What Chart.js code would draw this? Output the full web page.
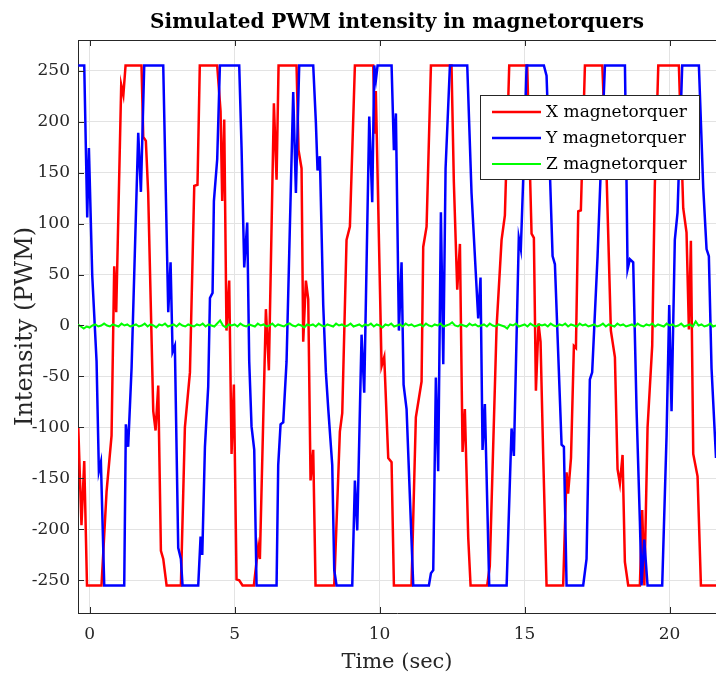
<!DOCTYPE html>
<html>
<head>
<meta charset="utf-8">
<script src="https://cdn.jsdelivr.net/npm/chart.js@4.4.1/dist/chart.umd.min.js"></script>
<style>
  html, body { margin: 0; padding: 0; background: #fff; }
  canvas { display: block; }
</style>
</head>
<body>
<canvas id="pwmChart" width="716" height="680"></canvas>
<script>
// axis ticks
const xTicks = [0, 5, 10, 15, 20];
const yTicks = [-250, -200, -150, -100, -50, 0, 50, 100, 150, 200, 250];

// X magnetorquer (red), time in sec / PWM value
const xTorqTime = [-0.39, -0.28, -0.185, -0.09, 0.41, 0.585, 0.757, 0.849, 0.918, 1.09, 1.164, 1.24, 1.79, 1.85, 1.94, 2.02,
  2.195, 2.275, 2.367, 2.459, 2.54, 2.655, 3.148, 3.286, 3.46, 3.609, 3.72, 3.8, 4.4, 4.516, 4.573, 4.642, 4.72, 4.814,
  4.895, 4.975, 5.067, 5.159, 5.274, 5.665, 5.814, 5.872, 6.079, 6.182, 6.355, 6.447, 6.516, 7.136, 7.205, 7.309, 7.366,
  7.458, 7.539, 7.619, 7.711, 7.791, 8.436, 8.63, 8.712, 8.86, 8.976, 9.148, 9.78, 9.84, 9.87, 10.068, 10.16, 10.298,
  10.413, 10.493, 11.1, 11.25, 11.447, 11.504, 11.62, 11.77, 12.48, 12.56, 12.677, 12.77, 12.861, 12.94, 13.056, 13.137,
  13.71, 13.8, 14.033, 14.206, 14.32, 14.47, 15.09, 15.24, 15.32, 15.39, 15.48, 15.55, 15.64, 15.757, 16.33, 16.447, 16.5,
  16.6, 16.7, 16.77, 16.85, 16.94, 17.08, 17.68, 17.83, 17.975, 18.114, 18.205, 18.286, 18.378, 18.458, 18.573, 18.975,
  19.056, 19.13, 19.24, 19.4, 19.49, 19.61, 20.32, 20.47, 20.584, 20.665, 20.734, 20.815, 20.964, 21.08, 21.6];
const xTorqPwm = [-100, -196, -133, -255, -255, -163, -108, 58, 13, 236, 226, 255, 255, 185, 181, 130,
  -84, -103, -59, -221, -229, -255, -255, -100, -46, 137, 138, 255, 255, 210, 122, 202, -5, 44,
  -126, -58, -249, -250, -255, -255, -217, -229, 16, -44, 218, 143, 255, 255, 172, 154, -16,
  44, 26, -152, -122, -255, -255, -104, -86, 84, 97, 255, 255, 188, 230, -40, -31, -130,
  -134, -255, -255, -90, -55, 77, 97, 255, 255, 141, 35, 80, -124, -82, -208, -255,
  -255, -236, -2, 84, 108, 255, 255, 90, 86, -64, 2, -16, -126, -255, -255, -144, -165,
  -130, -20, -22, 112, 113, 255, 255, 144, -5, -31, -141, -155, -127, -232, -255, -255,
  -181, -255, -100, -20, 137, 255, 255, 115, 91, -4, 83, -126, -148, -255, -255];

// Y magnetorquer (blue)
const yTorqTime = [-0.39, -0.185, -0.082, -0.024, 0.091, 0.24, 0.32, 0.39, 0.505, 1.194, 1.25, 1.33, 1.447, 1.677, 1.769,
  1.884, 2.539, 2.712, 2.792, 2.861, 2.94, 3.056, 3.148, 3.205, 3.746, 3.827, 3.885, 3.977, 4.09, 4.15, 4.24, 4.286, 4.4,
  4.493, 5.159, 5.24, 5.332, 5.435, 5.504, 5.584, 5.677, 5.757, 6.447, 6.504, 6.585, 6.677, 6.792, 6.884, 7.021, 7.114,
  7.228, 7.711, 7.803, 7.86, 7.94, 8.056, 8.148, 8.23, 8.367, 8.436, 8.516, 9.057, 9.148, 9.229, 9.378, 9.47, 9.643,
  9.746, 9.815, 9.873, 9.93, 10.413, 10.493, 10.562, 10.665, 10.757, 10.827, 10.93, 11.16, 11.7, 11.77, 11.85, 11.94,
  12.02, 12.114, 12.195, 12.275, 12.425, 13.022, 13.17, 13.4, 13.48, 13.55, 13.63, 13.78, 14.38, 14.55, 14.63, 14.8,
  14.87, 14.975, 15.068, 15.665, 15.757, 15.87, 15.965, 16.045, 16.275, 16.355, 16.447, 17.02, 17.136, 17.25, 17.33,
  17.516, 17.63, 17.77, 18.46, 18.516, 18.55, 18.63, 18.745, 18.86, 18.975, 19.033, 19.125, 19.24, 19.745, 19.895,
  19.987, 20.067, 20.18, 20.274, 20.435, 21.01, 21.16, 21.274, 21.354, 21.446, 21.6];
const yTorqPwm = [255, 255, 106, 174, 49, -35, -143, -134, -255, -255, -97, -119, -42, 189, 131,
  255, 255, 13, 62, -26, -20, -218, -229, -255, -255, -207, -225, -119, -60, 27, 32, 122, 163,
  255, 255, 174, 57, 101, -35, -99, -122, -255, -255, -137, -97, -95, -35, 71, 229, 130,
  255, 255, 199, 152, 166, 20, -46, -82, -137, -240, -255, -255, -152, -201, -9, -66, 205,
  121, 255, 241, 255, 255, 172, 208, -5, 62, -58, -82, -255, -255, -243, -240, -51,
  -143, 111, -38, 154, 255, 255, 130, 7, 47, -122, -77, -255, -255, -101, -128, 86,
  75, 163, 255, 255, 245, 152, 68, 60, -117, -119, -255, -255, -229, -53, -46,
  68, 155, 255, 255, 137, 55, 65, 62, -82, -192, -255, -210, -255, -255, -108,
  20, -84, 84, 111, 255, 255, 135, 75, 68, -42, -130];

// Z magnetorquer (green), sampled every 0.1 s from -0.4 s
const zTorqStart = -0.4;
const zTorqStep = 0.1;
const zTorqPwm = [
  1, -1, -3, -1, -2, 0, 1, -1, 0, 2, 0, -1, 1, 0, -1, 2, 0, 1, -1, 0,
  1, -1, 0, 2, -1, 1, 0, -2, 1, 0, 2, -1, 0, 1, -1, 2, 0, -1, 1, 0,
  -1, 1, 0, 2, -1, 1, 0, -1, 2, 5, 0, -2, 1, 0, 1, -1, 2, 0, -1, 1,
  0, -1, 2, 0, 1, -1, 0, 2, -1, 1, 0, -1, 1, 2, 0, -1, 1, 0, -2, 1,
  0, 1, -1, 2, 0, -1, 1, 0, -1, 2, 0, 1, -1, 0, 2, -1, 0, 1, -1, 1,
  0, 2, -1, 1, 0, -2, 1, 0, 2, -1, 0, 1, -1, 2, 0, 1, -1, 0, 1, -1,
  2, 0, -1, 1, 0, 2, -1, 0, 1, 3, 0, -1, 1, 0, -1, 2, 0, 1, -1, 0,
  1, -1, 2, 0, -1, 1, 0, -1, -3, 1, 0, 2, -1, 0, 1, -1, 2, 0, -1, 1,
  0, 1, -1, 2, 0, -1, 1, 0, 2, -1, 1, 0, -1, 2, 0, 1, -1, 0, 1, -1,
  0, 2, -1, 1, 0, -1, 2, 0, 1, -1, 0, 1, -1, 2, 0, -1, 1, 0, 2, -1,
  1, 0, -1, 2, 0, 1, -1, 0, 2, -1, 0, 1, -1, 4, 0, 1, -1, 0, 2, -1,
  0];

const serif = '"DejaVu Serif", "Liberation Serif", serif';
const axisColor = '#262626';
const gridColor = '#e3e3e3';

const toPoints = (ts, vs) => ts.map((t, i) => ({ x: t, y: vs[i] }));
const zPoints = zTorqPwm.map((v, i) => ({ x: zTorqStart + i * zTorqStep, y: v }));

// title, top border, inward ticks and the legend box, MATLAB style
const matlabFrame = {
  id: 'matlabFrame',
  afterDraw(chart) {
    const { ctx, chartArea: a, scales } = chart;
    ctx.save();
    ctx.strokeStyle = axisColor;
    ctx.lineWidth = 1;
    ctx.beginPath();
    ctx.moveTo(a.left, a.top + 0.5);
    ctx.lineTo(a.right, a.top + 0.5);
    xTicks.forEach(v => {
      const px = Math.round(scales.x.getPixelForValue(v)) + 0.5;
      ctx.moveTo(px, a.bottom); ctx.lineTo(px, a.bottom - 6);
      ctx.moveTo(px, a.top); ctx.lineTo(px, a.top + 6);
    });
    yTicks.forEach(v => {
      const py = Math.round(scales.y.getPixelForValue(v)) + 0.5;
      ctx.moveTo(a.left, py); ctx.lineTo(a.left + 6, py);
    });
    ctx.stroke();

    ctx.fillStyle = '#000';
    ctx.font = 'bold 20px ' + serif;
    ctx.textAlign = 'center';
    ctx.textBaseline = 'middle';
    ctx.fillText('Simulated PWM intensity in magnetorquers', (a.left + a.right) / 2, 23);

    // legend
    const bx = 480, by = 95, bw = 219, bh = 84;
    ctx.fillStyle = '#fff';
    ctx.fillRect(bx, by, bw, bh);
    ctx.strokeStyle = axisColor;
    ctx.strokeRect(bx + 0.5, by + 0.5, bw, bh);
    ctx.font = '17px ' + serif;
    ctx.textAlign = 'left';
    chart.data.datasets.forEach((ds, i) => {
      const ry = by + 17 + i * 26;
      ctx.strokeStyle = ds.borderColor;
      ctx.lineWidth = ds.borderWidth;
      ctx.beginPath();
      ctx.moveTo(bx + 12, ry); ctx.lineTo(bx + 61, ry);
      ctx.stroke();
      ctx.fillStyle = '#000';
      ctx.fillText(ds.label, bx + 66, ry + 1);
    });
    ctx.restore();
  }
};

new Chart(document.getElementById('pwmChart'), {
  type: 'line',
  data: {
    datasets: [
      { label: 'X magnetorquer', data: toPoints(xTorqTime, xTorqPwm), borderColor: '#ff0000', borderWidth: 2.5, order: 3 },
      { label: 'Y magnetorquer', data: toPoints(yTorqTime, yTorqPwm), borderColor: '#0000ff', borderWidth: 2.5, order: 2 },
      { label: 'Z magnetorquer', data: zPoints, borderColor: '#00ff00', borderWidth: 2, order: 1 }
    ]
  },
  options: {
    responsive: false,
    animation: false,
    layout: { padding: { top: 40, left: 0, right: 0, bottom: 0 } },
    elements: { point: { radius: 0 }, line: { tension: 0, fill: false } },
    plugins: { legend: { display: false }, title: { display: false }, tooltip: { enabled: false } },
    scales: {
      x: {
        type: 'linear',
        min: -0.4,
        max: 21.6,
        afterBuildTicks: s => { s.ticks = xTicks.map(v => ({ value: v })); },
        afterFit: s => { s.height = 67; },
        grid: { color: gridColor, drawTicks: false },
        border: { color: axisColor, width: 1 },
        ticks: { font: { family: serif, size: 17 }, color: axisColor, padding: 11, maxRotation: 0 },
        title: { display: true, text: 'Time (sec)', font: { family: serif, size: 21 }, color: axisColor, padding: { top: 0, bottom: 5 } }
      },
      y: {
        type: 'linear',
        min: -282,
        max: 280,
        afterBuildTicks: s => { s.ticks = yTicks.map(v => ({ value: v })); },
        afterFit: s => { s.width = 78; },
        grid: { color: gridColor, drawTicks: false },
        border: { color: axisColor, width: 1 },
        ticks: { font: { family: serif, size: 17 }, color: axisColor, padding: 8 },
        title: { display: true, text: 'Intensity (PWM)', font: { family: serif, size: 24 }, color: axisColor, padding: { top: 11, bottom: 0 } }
      }
    }
  },
  plugins: [matlabFrame]
});
</script>
</body>
</html>
